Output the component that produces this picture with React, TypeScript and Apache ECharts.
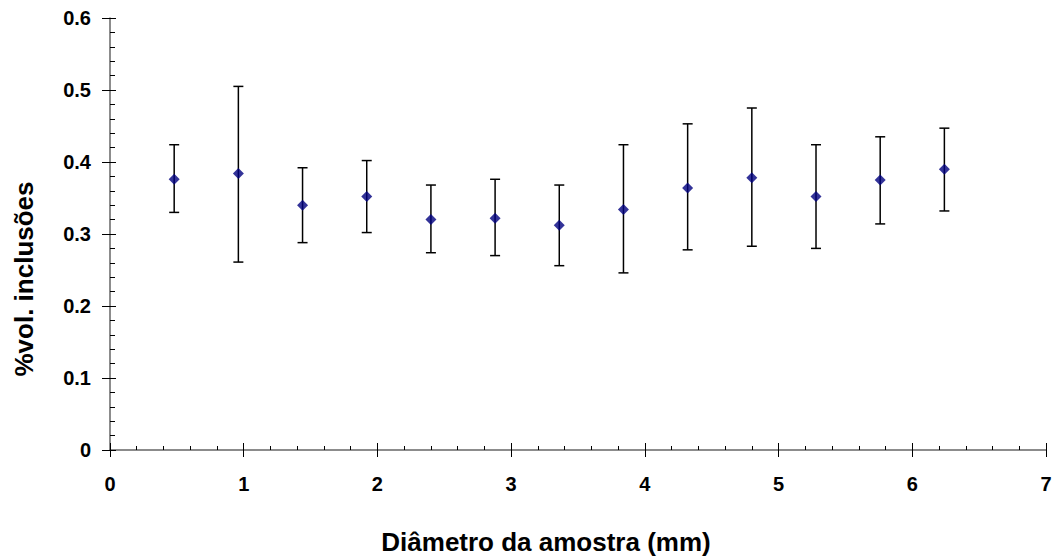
import React, { useEffect, useRef } from "react";
import * as echarts from "echarts";

const diameters = [0.48, 0.96, 1.44, 1.92, 2.4, 2.88, 3.36, 3.84, 4.32, 4.8, 5.28, 5.76, 6.24];
const meanValues = [0.376, 0.384, 0.34, 0.352, 0.32, 0.322, 0.312, 0.334, 0.364, 0.378, 0.352, 0.375, 0.39];
const upperValues = [0.424, 0.505, 0.392, 0.402, 0.368, 0.376, 0.368, 0.424, 0.453, 0.475, 0.424, 0.435, 0.447];
const lowerValues = [0.33, 0.261, 0.288, 0.302, 0.274, 0.27, 0.256, 0.246, 0.278, 0.283, 0.28, 0.314, 0.332];

const xTitle = "Diâmetro da amostra (mm)";
const yTitle = "%vol. inclusões";

const FONT = "'Liberation Sans', Arial, Helvetica, sans-serif";

export default function App() {
  const ref = useRef<HTMLDivElement>(null);

  useEffect(() => {
    if (!ref.current) return;
    const chart = echarts.init(ref.current, undefined, { renderer: "svg" });

    const errData = diameters.map((x, i) => [x, lowerValues[i], upperValues[i]]);
    const pts = diameters.map((x, i) => [x, meanValues[i]]);

    const baseX = {
      type: "value",
      min: 0,
      max: 7,
      interval: 1,
      position: "bottom",
      splitLine: { show: false },
    };
    const baseY = {
      type: "value",
      min: 0,
      max: 0.6,
      interval: 0.1,
      position: "left",
      splitLine: { show: false },
    };

    chart.setOption({
      animation: false,
      backgroundColor: "#ffffff",
      grid: { left: 110, right: 9, top: 18, bottom: 108, containLabel: false },
      graphic: [
        {
          type: "text",
          x: 546,
          y: 542,
          style: {
            text: xTitle,
            font: `bold 26px ${FONT}`,
            fill: "#000",
            textAlign: "center",
            textVerticalAlign: "middle",
          },
        },
        {
          type: "text",
          x: 24,
          y: 279,
          rotation: Math.PI / 2,
          style: {
            text: yTitle,
            font: `bold 26px ${FONT}`,
            fill: "#000",
            textAlign: "center",
            textVerticalAlign: "middle",
          },
        },
      ],
      xAxis: [
        {
          ...baseX,
          axisLine: { show: true, onZero: false, lineStyle: { color: "#666", width: 1.5 } },
          axisTick: { show: true, inside: false, length: 7, lineStyle: { color: "#000", width: 1 } },
          axisLabel: { margin: 24, fontFamily: FONT, fontWeight: "bold", fontSize: 20, color: "#000" },
        },
        {
          ...baseX,
          axisLine: { show: false, onZero: false },
          axisTick: { show: true, inside: true, length: 7, lineStyle: { color: "#000", width: 1 } },
          minorTick: { show: true, splitNumber: 5, length: 4, lineStyle: { color: "#000", width: 1 } },
          axisLabel: { show: false },
        },
      ],
      yAxis: [
        {
          ...baseY,
          axisLine: { show: true, onZero: false, lineStyle: { color: "#666", width: 1.5 } },
          axisTick: { show: true, inside: false, length: 8, lineStyle: { color: "#000", width: 1 } },
          axisLabel: {
            margin: 19,
            fontFamily: FONT,
            fontWeight: "bold",
            fontSize: 20,
            color: "#000",
            formatter: (v: number) => (v === 0 ? "0" : v.toFixed(1)),
          },
        },
        {
          ...baseY,
          axisLine: { show: false, onZero: false },
          axisTick: { show: true, inside: true, length: 6, lineStyle: { color: "#000", width: 1 } },
          minorTick: { show: true, splitNumber: 5, length: 5, lineStyle: { color: "#000", width: 1 } },
          axisLabel: { show: false },
        },
      ],
      series: [
        {
          type: "custom",
          xAxisIndex: 0,
          yAxisIndex: 0,
          data: errData,
          renderItem: (params: any, api: any) => {
            const x = api.value(0);
            const lo = api.coord([x, api.value(1)]);
            const hi = api.coord([x, api.value(2)]);
            const hw = 5;
            const style = { stroke: "#000", lineWidth: 1.5 };
            return {
              type: "group",
              children: [
                { type: "line", shape: { x1: lo[0], y1: lo[1], x2: hi[0], y2: hi[1] }, style },
                { type: "line", shape: { x1: hi[0] - hw, y1: hi[1], x2: hi[0] + hw, y2: hi[1] }, style },
                { type: "line", shape: { x1: lo[0] - hw, y1: lo[1], x2: lo[0] + hw, y2: lo[1] }, style },
              ],
            };
          },
          z: 2,
        },
        {
          type: "scatter",
          xAxisIndex: 0,
          yAxisIndex: 0,
          data: pts,
          symbol: "diamond",
          symbolSize: 11,
          itemStyle: { color: "#000080" },
          z: 3,
        },
      ],
    });

    return () => chart.dispose();
  }, []);

  return <div ref={ref} style={{ width: 1055, height: 558, position: "absolute", left: 0, top: 0 }} />;
}
